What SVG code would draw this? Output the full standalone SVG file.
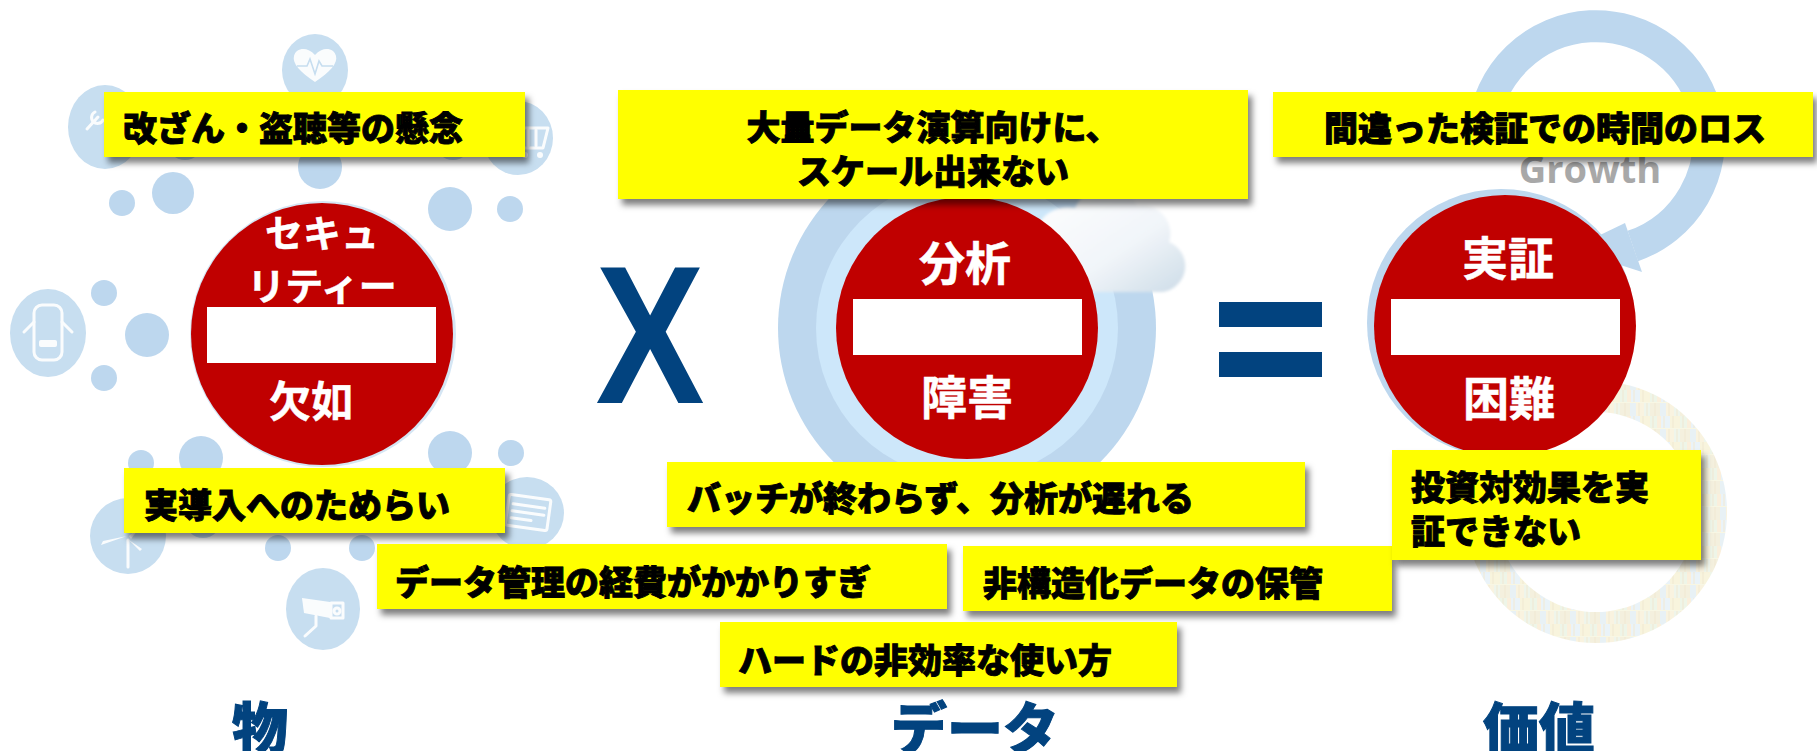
<svg xmlns="http://www.w3.org/2000/svg" width="1817" height="751" viewBox="0 0 1817 751">
  <defs>
    <style>
      .bx { fill: #FFFF00; filter: url(#boxShadow); }
      .t { font-family: "Noto Sans CJK JP", "Noto Sans CJK SC", sans-serif; font-weight: 900; font-size: 34px; fill: #000; stroke: #000; stroke-width: 0.9px; paint-order: stroke; }
      .w { font-family: "Noto Sans CJK JP", "Noto Sans CJK SC", sans-serif; font-weight: 700; fill: #fff; text-anchor: middle; stroke: #fff; stroke-width: 0.5px; }
      .lbl { font-family: "Noto Sans CJK JP", "Noto Sans CJK SC", sans-serif; font-weight: 900; font-size: 56px; fill: #02437F; stroke: #02437F; stroke-width: 1px; text-anchor: middle; }
      .big { fill: #C7DEF0; }
      .bub { fill: #BDD7EE; }
      .ico { fill: none; stroke: #fff; stroke-width: 3; stroke-linecap: round; stroke-linejoin: round; }
      .icf { fill: #fff; }
      .sign { fill: #C00000; }
      .bar { fill: #fff; }
      .op { fill: #02437F; }
    </style>
    <filter id="boxShadow" x="-5%" y="-20%" width="115%" height="160%">
      <feDropShadow dx="4" dy="6" stdDeviation="3" flood-color="#000" flood-opacity="0.5"/>
    </filter>
    <filter id="soft" x="-10%" y="-10%" width="120%" height="120%">
      <feGaussianBlur stdDeviation="0.7"/>
    </filter>
    <filter id="cloudBlur" x="-10%" y="-10%" width="120%" height="120%">
      <feGaussianBlur stdDeviation="1.5"/>
    </filter>
    <linearGradient id="cloudFill" x1="0" y1="0" x2="1" y2="1">
      <stop offset="0" stop-color="#FFFFFF"/>
      <stop offset="0.6" stop-color="#F1F5F9"/>
      <stop offset="1" stop-color="#CCDBE7"/>
    </linearGradient>
    <!-- pale bookshelf texture for the lower ring -->
    <pattern id="shelf" width="30" height="26" patternUnits="userSpaceOnUse">
      <rect width="30" height="26" fill="#F4F1D2"/>
      <rect x="0" y="0" width="7" height="12" fill="#E3EED9"/>
      <rect x="7" y="0" width="4" height="12" fill="#F6E5C4"/>
      <rect x="11" y="0" width="9" height="12" fill="#DCEBF3"/>
      <rect x="20" y="0" width="10" height="12" fill="#F3EDC6"/>
      <rect x="0" y="13" width="10" height="13" fill="#EDE6C8"/>
      <rect x="10" y="13" width="6" height="13" fill="#D9E8EF"/>
      <rect x="16" y="13" width="8" height="13" fill="#F5EBCB"/>
      <rect x="24" y="13" width="6" height="13" fill="#E4EFDD"/>
      <path d="M3 0v12M14 0v12M23 0v12M5 13v13M19 13v13M27 13v13" stroke="#E8D9B4" stroke-width="1"/>
    </pattern>
  </defs>

  <!-- left cluster: connected things -->
  <g id="things-bubbles">
    <ellipse class="big" cx="315" cy="70" rx="33" ry="36"/>
    <ellipse class="big" cx="105" cy="127" rx="37" ry="42"/>
    <ellipse class="big" cx="518" cy="138" rx="35" ry="37"/>
    <ellipse class="big" cx="48" cy="333" rx="38" ry="44"/>
    <ellipse class="big" cx="128" cy="536" rx="38" ry="38"/>
    <ellipse class="big" cx="323" cy="609" rx="37" ry="41"/>
    <ellipse class="big" cx="527" cy="513" rx="37" ry="36"/>

    <circle class="bub" cx="173" cy="193" r="21"/>
    <circle class="bub" cx="320" cy="167" r="22"/>
    <circle class="bub" cx="450" cy="209" r="22"/>
    <circle class="bub" cx="147" cy="335" r="22"/>
    <circle class="bub" cx="201" cy="458" r="22"/>
    <circle class="bub" cx="450" cy="453" r="22"/>
    <circle class="bub" cx="185" cy="142" r="18"/>
    <circle class="bub" cx="453" cy="142" r="18"/>
    <circle class="bub" cx="203" cy="520" r="18"/>

    <circle class="bub" cx="122" cy="203" r="13"/>
    <circle class="bub" cx="510" cy="209" r="13"/>
    <circle class="bub" cx="104" cy="293" r="13"/>
    <circle class="bub" cx="104" cy="378" r="13"/>
    <circle class="bub" cx="141" cy="463" r="13"/>
    <circle class="bub" cx="511" cy="453" r="13"/>
    <circle class="bub" cx="278" cy="548" r="13"/>
    <circle class="bub" cx="362" cy="548" r="13"/>

    <g filter="url(#soft)" opacity="0.92">
      <!-- heart with pulse -->
      <path class="icf" d="M315 82 C300 72 292 63 294 56 C296 48 307 46 315 55 C323 46 334 48 336 56 C338 63 330 72 315 82 Z"/>
      <polyline points="297,66 307,66 310,59 315,74 319,61 322,66 333,66" fill="none" stroke="#C7DEF0" stroke-width="1.6"/>
      <!-- wrench -->
      <line class="ico" x1="87" y1="129" x2="98" y2="117" stroke-width="5"/>
      <path class="ico" d="M95 112 a6 6 0 1 0 8 8"/>
      <!-- cart -->
      <path class="ico" d="M508 120 h7 l6 28 h22 l5 -20 h-29"/>
      <path class="ico" d="M528 130 v16 M536 130 v16" stroke-width="2"/>
      <circle class="icf" cx="525" cy="155" r="3"/>
      <circle class="icf" cx="540" cy="155" r="3"/>
      <!-- car, top view -->
      <rect class="ico" x="34" y="305" width="28" height="55" rx="8"/>
      <rect class="icf" x="39" y="340" width="18" height="7" rx="2"/>
      <path class="ico" d="M34 322 l-10 10 M62 322 l10 10" stroke-width="2.5"/>
      <!-- wind turbine -->
      <line class="ico" x1="128" y1="540" x2="128" y2="567" stroke-width="5"/>
      <path class="icf" d="M127 536 L101 545 L103 541 Z M129 536 L143 523 L131 539 Z M129 540 L142 549 L140 551 Z"/>
      <!-- security camera -->
      <path class="icf" d="M302 598 L330 602 L330 618 L304 613 Z"/>
      <rect class="ico" x="331" y="603" width="12" height="15" stroke-width="2.5"/>
      <circle class="ico" cx="337" cy="611" r="3" stroke-width="2"/>
      <path class="ico" d="M316 616 L316 626 L305 636" stroke-width="4"/>
      <!-- radio -->
      <g transform="rotate(8 528 513)">
        <rect class="ico" x="507" y="497" width="42" height="31" rx="2"/>
        <path class="ico" d="M512 506 h32 M512 513 h32 M512 520 h20" stroke-width="2"/>
      </g>
    </g>
  </g>

  <!-- middle backdrop: rings and cloud -->
  <g id="data-backdrop">
    <circle cx="967" cy="328" r="189" fill="#BDD7EE"/>
    <circle cx="967" cy="328" r="151" fill="#CDE7FA"/>
    <g filter="url(#cloudBlur)">
      <path d="M1035 250 a34 34 0 0 1 40 -42 a34 34 0 0 1 62 -2 a28 28 0 0 1 32 36 a26 26 0 0 1 -12 50 h-100 a22 22 0 0 1 -22 -42 z" fill="url(#cloudFill)"/>
    </g>
  </g>

  <!-- right backdrop: growth cycle and textured ring -->
  <g id="value-backdrop">
    <path d="M1596 381 a131 131 0 1 0 0.1 0 Z M1596 412 a100 100 0 1 1 -0.1 0 Z" fill="url(#shelf)" fill-rule="evenodd" opacity="0.6"/>
    <path d="M1483.4 129.2 A113 113 0 1 1 1632.8 246" fill="none" stroke="#BDD7EE" stroke-width="32"/>
    <polygon points="1625,223 1642,272 1571,249" fill="#BDD7EE"/>
    <text x="1590" y="183" font-family="'Open Sans', 'Liberation Sans', sans-serif" font-weight="700" font-size="38" fill="#A8A8A8" text-anchor="middle">Growth</text>
  </g>

  <!-- no-entry signs -->
  <g id="sign-things">
    <circle cx="323" cy="334" r="133" fill="#D5E6F4"/>
    <circle class="sign" cx="322" cy="334" r="131"/>
    <rect class="bar" x="207" y="307" width="229" height="56"/>
    <text class="w" x="322" y="247" font-size="38">セキュ</text>
    <text class="w" x="322" y="300" font-size="38">リティー</text>
    <text class="w" x="311" y="417" font-size="42">欠如</text>
  </g>

  <g id="sign-data">
    <circle class="sign" cx="967" cy="328" r="131"/>
    <rect class="bar" x="853" y="299" width="229" height="56"/>
    <text class="w" x="965" y="280" font-size="46">分析</text>
    <text class="w" x="967" y="414" font-size="46">障害</text>
  </g>

  <g id="sign-value">
    <circle cx="1501" cy="323" r="134" fill="#BDD7EE"/>
    <circle class="sign" cx="1505" cy="326" r="131"/>
    <rect class="bar" x="1391" y="299" width="229" height="56"/>
    <text class="w" x="1508" y="275" font-size="46">実証</text>
    <text class="w" x="1509" y="415" font-size="46">困難</text>
  </g>

  <!-- operators -->
  <g id="op-times">
    <text class="op" transform="translate(650 403) scale(0.83 1)" font-family="'Liberation Sans', Arial, sans-serif" font-weight="700" font-size="197" text-anchor="middle">X</text>
  </g>
  <g id="op-equals">
    <rect class="op" x="1219" y="302" width="103" height="25"/>
    <rect class="op" x="1219" y="352" width="103" height="25"/>
  </g>

  <!-- issue callouts -->
  <g id="issue-tamper">
    <rect class="bx" x="104" y="92" width="421" height="65"/>
    <text class="t" x="123" y="141">改ざん・盗聴等の懸念</text>
  </g>
  <g id="issue-adoption">
    <rect class="bx" x="124" y="468" width="381" height="65"/>
    <text class="t" x="144" y="518">実導入へのためらい</text>
  </g>
  <g id="issue-cost">
    <rect class="bx" x="377" y="544" width="570" height="65"/>
    <text class="t" x="395" y="595">データ管理の経費がかかりすぎ</text>
  </g>
  <g id="issue-scale">
    <rect class="bx" x="618" y="90" width="630" height="109"/>
    <text class="t" x="933" y="140" text-anchor="middle">大量データ演算向けに、</text>
    <text class="t" x="933" y="184" text-anchor="middle">スケール出来ない</text>
  </g>
  <g id="issue-batch">
    <rect class="bx" x="667" y="462" width="638" height="65"/>
    <text class="t" x="687" y="511">バッチが終わらず、分析が遅れる</text>
  </g>
  <g id="issue-unstructured">
    <rect class="bx" x="963" y="546" width="429" height="65"/>
    <text class="t" x="983" y="596" font-size="35">非構造化データの保管</text>
  </g>
  <g id="issue-hardware">
    <rect class="bx" x="720" y="622" width="457" height="65"/>
    <text class="t" x="738" y="673">ハードの非効率な使い方</text>
  </g>
  <g id="issue-timeloss">
    <rect class="bx" x="1273" y="92" width="540" height="65"/>
    <text class="t" x="1545" y="141" text-anchor="middle">間違った検証での時間のロス</text>
  </g>
  <g id="issue-roi">
    <rect class="bx" x="1392" y="450" width="309" height="110"/>
    <text class="t" x="1411" y="500" font-size="36">投資対効果を実</text>
    <text class="t" x="1411" y="544" font-size="36">証できない</text>
  </g>

  <!-- column labels -->
  <g id="label-things"><text class="lbl" x="260" y="749">物</text></g>
  <g id="label-data"><text class="lbl" x="975" y="749">データ</text></g>
  <g id="label-value"><text class="lbl" x="1539" y="749">価値</text></g>
</svg>
